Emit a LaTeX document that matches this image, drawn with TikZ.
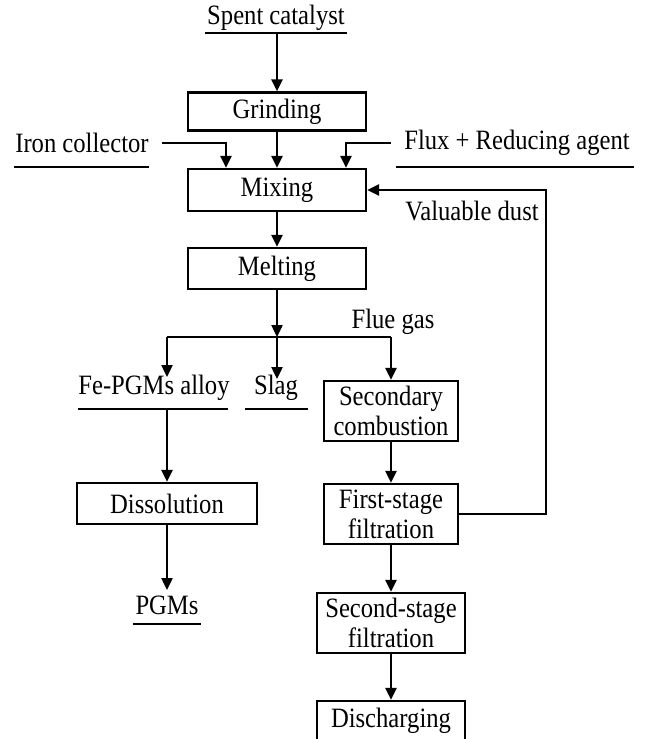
\documentclass[tikz,border=0pt]{standalone}
\usepackage{fontspec}
\setmainfont{Liberation Serif}[FakeStretch=0.88]
\usetikzlibrary{arrows.meta}
\begin{document}
\begin{tikzpicture}[x=1pt,y=-1pt,
  line width=2.4pt,
  font=\fontsize{28}{30}\selectfont,
  arr/.style={-{Triangle[length=12pt,width=11pt]}},
  box/.style={draw,rectangle,inner sep=0pt,align=center},
  lbl/.style={inner sep=0pt,align=center},
  uline/.style={inner sep=0pt,minimum height=0pt,minimum width=#1,
    append after command={(\tikzlastnode.west) edge[-] (\tikzlastnode.east)}}]
\clip (0,0) rectangle (645,739);
\useasboundingbox (0,0) rectangle (645,739);
\fill[white] (0,0) rectangle (645,739);

% boxes
\node[box,minimum width=178pt,minimum height=38pt] (grind) at (277,111.5) {Grinding};
\node[box,minimum width=178pt,minimum height=42pt] (mix) at (277,190) {Mixing};
\node[box,minimum width=178pt,minimum height=41pt] (melt) at (277,268.5) {Melting};
\node[box,minimum width=134pt,minimum height=60pt] (sec) at (391,411) {Secondary\\combustion};
\node[box,minimum width=134pt,minimum height=60pt] (first) at (391,514) {First-stage\\filtration};
\node[box,minimum width=148pt,minimum height=60pt] (second) at (391,623) {Second-stage\\filtration};
\node[box,minimum width=148pt,minimum height=40pt] (disch) at (391,721) {Discharging};
\node[box,minimum width=180pt,minimum height=41pt] (diss) at (167,503.5) {Dissolution};

% labels
\node[lbl] (spent) at (276,18) {Spent catalyst};
\node[uline=140pt] (spentL) at (276,33) {};
\node[lbl] (iron) at (82,143) {Iron collector};
\node[uline=133pt] (ironL) at (81.5,167) {};
\node[lbl] (flux) at (517,143) {Flux + Reducing agent};
\node[uline=236pt] (fluxL) at (515,167) {};
\node[lbl] (dust) at (472,211) {Valuable dust};
\node[lbl] (flue) at (393,322) {Flue gas};
\node[lbl] (fe) at (154,388) {Fe-PGMs alloy};
\node[uline=148pt] (feL) at (153,409) {};
\node[lbl] (slag) at (276,388) {Slag};
\node[uline=61pt] (slagL) at (276.5,409) {};
\node[lbl] (pgm) at (167,605) {PGMs};
\node[uline=66pt] (pgmL) at (167,624) {};

% coordinates
\coordinate (ironS) at (162,143);
\coordinate (fluxS) at (391,143);
\coordinate (junc) at (277,337);
\coordinate (jl) at (167,337);
\coordinate (jr) at (391,337);
\coordinate (fb) at (546,0);

% connectors
\draw[arr] (spentL.south -| grind.north) -- (grind.north);
\draw[arr] (grind) -- (mix);
\draw[arr] (ironS) -| ([xshift=-51pt]mix.north);
\draw[arr] (fluxS) -| ([xshift=69pt]mix.north);
\draw[arr] (first.east) -| (fb |- mix.east) -- (mix.east);
\draw[arr] (mix) -- (melt);
\draw[arr] (melt.south) -- (junc);
\draw (jl) -- (jr);
\draw[arr] (jl) -- (167,377);
\draw[arr] (junc) -- (277,379);
\draw[arr] (jr) -- (sec.north);
\draw[arr] (feL.south -| diss.north) -- (diss.north);
\draw[arr] (diss.south) -- (167,590);
\draw[arr] (sec) -- (first);
\draw[arr] (first) -- (second);
\draw[arr] (second) -- (disch);
\end{tikzpicture}
\end{document}
